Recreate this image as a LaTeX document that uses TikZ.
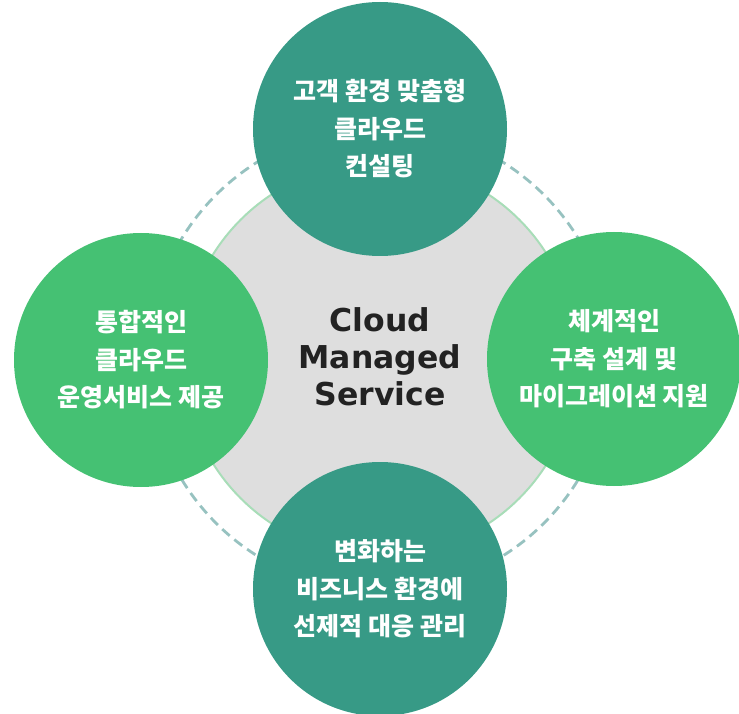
\documentclass[tikz,border=0pt]{standalone}
\usepackage{fontspec}
\newfontfamily\kr{Noto Sans CJK KR}
\newfontfamily\latinb{DejaVu Sans}
\definecolor{teal1}{HTML}{379A86}
\definecolor{green1}{HTML}{45C173}
\definecolor{gray1}{HTML}{DEDEDE}
\definecolor{ring}{HTML}{A8DDB8}
\definecolor{dashc}{HTML}{97C2C0}
\definecolor{txt}{HTML}{222222}
\tikzset{
  petal/.style={circle, minimum size=254pt, inner sep=0pt, text=white, align=center,
    font=\kr\bfseries\fontsize{25}{37.5}\selectfont},
}
\begin{document}
\begin{tikzpicture}[x=1pt,y=-1pt]
\useasboundingbox (0,0) rectangle (739,714);
\coordinate (c) at (380,359);
\draw[dashc, line width=2.8pt, dash pattern=on 10pt off 6pt] (c) circle[radius=232];
\fill[gray1] (c) circle[radius=197];
\draw[ring, line width=2pt] (c) circle[radius=197];
\node[font=\latinb\bfseries\fontsize{31.5}{37}\selectfont, text=txt, align=center] (center) at (380,357) {Cloud\\Managed\\Service};
\node[petal, fill=teal1] (top) at (380,129) {고객 환경 맞춤형\\클라우드\\컨설팅};
\node[petal, fill=green1] (left) at (141,360) {통합적인\\클라우드\\운영서비스 제공};
\node[petal, fill=green1] (right) at (614,359) {체계적인\\구축 설계 및\\마이그레이션 지원};
\node[petal, fill=teal1] (bottom) at (380,589) {변화하는\\비즈니스 환경에\\선제적 대응 관리};
\end{tikzpicture}
\end{document}
